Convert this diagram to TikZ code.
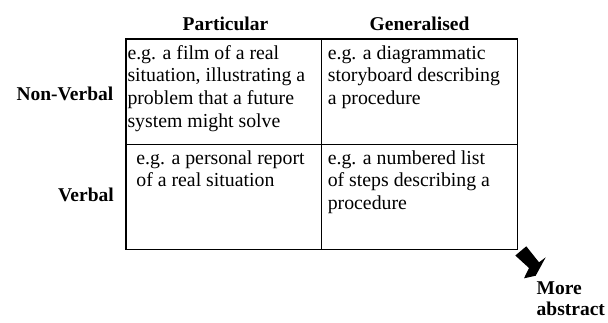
\documentclass[tikz,border=0pt]{standalone}
\usepackage{fontspec}
\setmainfont{Liberation Serif}

\begin{document}
\begin{tikzpicture}[x=1pt,y=-1pt,
    every node/.style={inner sep=0pt,font=\fontsize{19.8}{22.7}\selectfont\rmfamily},
    cell/.style={anchor=north west,align=left,execute at begin node=\strut},
    head/.style={font=\fontsize{19.5}{22.7}\selectfont\bfseries}]
      \useasboundingbox (0,0) rectangle (608,322);
      % grid
      \draw[line width=1.5pt]
        (125.8,38.8) rectangle (517.3,249.3)
        (321.3,38.8) -- (321.3,249.3)
        (125.8,144.5) -- (517.3,144.5);
      \draw
        (225.5,30.5) node[head,anchor=base] (particular) {Particular}
        (419.5,30.5) node[head,anchor=base] (generalised) {Generalised}
        (113.5,100.5) node[head,anchor=base east] (nonverbal) {Non-Verbal}
        (114,201) node[head,anchor=base east] (verbal) {Verbal};
      \draw
        (127.3,45.1) node[cell] (filmcell) {e.g. a film of a real\\situation, illustrating a\\problem that a future\\system might solve}
        (327.6,45.1) node[cell] (storycell) {e.g. a diagrammatic\\storyboard describing\\a procedure}
        (136.2,150.1) node[cell] (reportcell) {e.g. a personal report\\of a real situation}
        (327.6,150.1) node[cell] (listcell) {e.g. a numbered list\\of steps describing a\\procedure};
      \fill
        (526.3,246.3) -- (539,262.3) -- (545.7,257.3) -- (535.7,275.7)
        -- (524,278.3) -- (529,268) -- (515.3,255.5) -- cycle;
      \draw
        (536.5,281.4) node[cell,head,font=\fontsize{19.5}{21.5}\selectfont\bfseries] (abstract) {More\\abstract};
    \end{tikzpicture}
\end{document}
